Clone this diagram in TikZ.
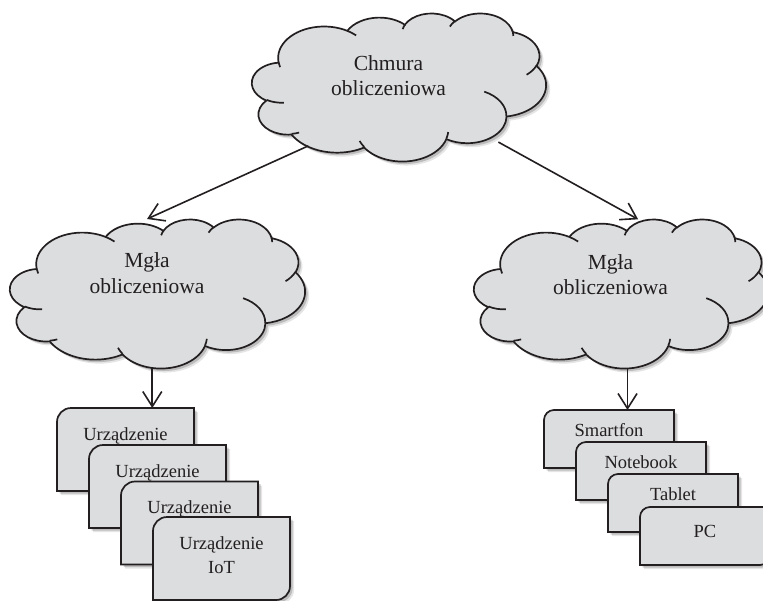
\documentclass[tikz,border=0pt]{standalone}
\usepackage{fontspec}
\setmainfont{Liberation Serif}
\usetikzlibrary{arrows.meta,shadows,shapes.geometric}
\definecolor{ink}{RGB}{35,31,32}
\definecolor{cfill}{RGB}{220,221,223}

% OOXML arcTo (visual angles) -> TikZ parametric arc
\newcommand\oa[4]{arc[x radius=#1, y radius=#2,
  start angle={atan2((#1)*sin(#3),(#2)*cos(#3))},
  delta angle={mod(atan2((#1)*sin((#3)+(#4)),(#2)*cos((#3)+(#4)))-atan2((#1)*sin(#3),(#2)*cos(#3))+720,360)}]}

\newcommand\cloudshape[4]{%
\begin{scope}[shift={(#1,#2)},x=#3pt,y=-#4pt]
\path[cloudbody] (3.900,14.370)
 \oa{6.753}{9.190}{-190.4875}{123.7805}
 \oa{5.333}{7.267}{-144.1024}{89.9452}
 \oa{4.365}{5.945}{-145.8079}{99.7230}
 \oa{4.857}{6.595}{-130.9861}{117.2417}
 \oa{5.333}{7.273}{-78.7089}{109.0269}
 \oa{6.775}{9.220}{-46.2673}{130.2690}
 \oa{5.785}{7.867}{0.6250}{114.0333}
 \oa{6.752}{9.215}{22.4516}{115.1726}
 \oa{7.720}{10.543}{66.2426}{75.7110}
 \oa{4.360}{5.918}{-274.9421}{146.7356}
 \oa{4.345}{5.945}{-246.8285}{152.5189} -- cycle;
\draw[cloudline]
 (4.693,26.177) \oa{4.345}{5.945}{86.742}{26.4295}
 (6.928,34.899) \oa{4.360}{5.918}{73.6105}{11.4475}
 (16.478,39.090) \oa{6.752}{9.215}{137.6242}{14.0811}
 (28.827,34.751) \oa{6.752}{9.215}{6.4533}{15.9984}
 (34.129,22.954) \oa{5.785}{7.867}{-70.2924}{70.9174}
 (41.798,15.354) \oa{5.333}{7.273}{30.3180}{27.7515}
 (38.324,5.426) \oa{4.857}{6.595}{-13.7443}{14.8589}
 (29.078,3.952) \oa{4.857}{6.595}{-149.1815}{18.1954}
 (22.141,4.720) \oa{4.365}{5.945}{-163.4943}{17.6864}
 (14.000,5.192) \oa{6.753}{9.190}{-66.7070}{12.3194}
 (4.127,15.789) \oa{6.753}{9.190}{157.6544}{11.8582};
\end{scope}}

% card: name, x, y (top-left), w, h, corner r, node options, text
\newcommand\card[8]{%
  \path[cardshape] (#2,#3+#5) -- (#2,#3+#6)
    .. controls (#2,#3+0.45*#6) and (#2+0.45*#6,#3) .. (#2+#6,#3)
    -- (#2+#4,#3) -- (#2+#4,#3+#5-#6)
    .. controls (#2+#4,#3+#5-0.45*#6) and (#2+#4-0.45*#6,#3+#5) .. (#2+#4-#6,#3+#5)
    -- cycle;
  \node[cardtext, minimum width=#4pt, #7] (#1) at (#2+#4/2,#3) {#8};
}

\tikzset{
  softshadow/.style={
    general shadow={shadow xshift=4pt, shadow yshift=-4pt, fill=black, opacity=0.10},
    general shadow={shadow xshift=2.5pt, shadow yshift=-2.5pt, fill=black, opacity=0.18}},
  cloudbody/.style={fill=cfill, draw=ink, line width=1.7pt, softshadow},
  cloudline/.style={draw=ink, line width=1.7pt},
  cloudanchor/.style={ellipse, draw=none, inner sep=0pt, minimum width=294pt, minimum height=149pt},
  cloudtext/.style={align=center, text=ink, inner sep=0pt, font=\fontsize{21.5}{25.5}\selectfont},
  cardshape/.style={fill=cfill, draw=ink, line width=1.7pt, softshadow},
  cardtext/.style={anchor=north, align=center, text=ink, inner xsep=0pt, text height=13pt,
    font=\fontsize{18.5}{24}\selectfont},
  arr/.style={draw=ink, line width=1.6pt, -{Straight Barb[length=15pt,width=19pt]}},
}

\begin{document}
\begin{tikzpicture}[x=1pt,y=-1pt]
\useasboundingbox (0,0) rectangle (763,600);

% clouds
\cloudshape{252}{13}{6.8056}{3.4259}
\node[cloudanchor] (c0) at (399,87) {};
\node[cloudtext] (c0t) at (388.5,75.5) {Chmura\\obliczeniowa};

\cloudshape{10}{219}{6.8287}{3.4491}
\node[cloudanchor] (m1) at (157.5,293.5) {};
\node[cloudtext] (m1t) at (147,273) {Mgła\\obliczeniowa};

\cloudshape{474}{219}{6.8056}{3.4491}
\node[cloudanchor] (m2) at (621,293.5) {};
\node[cloudtext] (m2t) at (610.5,274.5) {Mgła\\obliczeniowa};

% left cards
\card{u1}{57}{408}{137}{83}{14}{inner ysep=19pt}{Urządzenie}
\card{u2}{89}{445}{137}{83}{14}{inner ysep=19pt}{Urządzenie}
\card{u3}{121}{481.5}{137}{83}{14}{inner ysep=19pt}{Urządzenie}
\card{u4}{153}{517}{137}{83}{14}{inner ysep=19pt, text height=37pt}{Urządzenie\\IoT}

% right cards
\card{s1}{544}{410}{130}{58}{10}{inner ysep=13pt}{Smartfon}
\card{s2}{576}{442}{130}{58}{10}{inner ysep=13pt}{Notebook}
\card{s3}{608}{474}{130}{58}{10}{inner ysep=13pt}{Tablet}
\card{s4}{640}{507}{130}{58}{10}{inner ysep=17pt}{PC}

% connectors
\draw[arr] (c0.213) -- (m1.98);
\draw[arr] (c0.331) -- (m2.77);
\draw[arr] (m1.266) -- (m1.266 |- u1.north);
\draw[arr] (m2.275) -- (m2.275 |- s1.north);
\end{tikzpicture}
\end{document}
